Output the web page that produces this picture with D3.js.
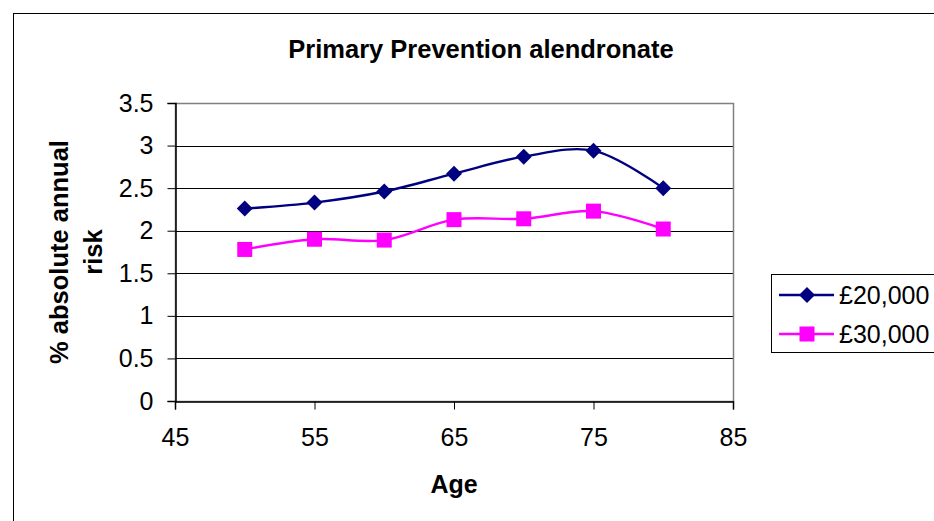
<!DOCTYPE html>
<html><head><meta charset="utf-8">
<script src="https://cdn.jsdelivr.net/npm/d3@7"></script>
<style>body{margin:0;background:#fff}svg{display:block}text{font-family:"Liberation Sans",Arial,sans-serif}</style>
</head><body>
<script>
const ages = [50, 55, 60, 65, 70, 75, 80];
const series20k = [2.26, 2.33, 2.46, 2.67, 2.87, 2.94, 2.50];
const series30k = [1.78, 1.90, 1.89, 2.13, 2.14, 2.23, 2.02];
const seriesNames = ["£20,000", "£30,000"];
const xTicks = [45, 55, 65, 75, 85];
const yTicks = [0, 0.5, 1, 1.5, 2, 2.5, 3, 3.5];

const W = 934, H = 521;
const svg = d3.select("body").append("svg").attr("width", W).attr("height", H);
svg.append("rect").attr("x", 13.5).attr("y", 13.5).attr("width", 940).attr("height", 530)
  .attr("fill", "#fff").attr("stroke", "#000").attr("stroke-width", 1);

const L = 175, R = 733, T = 103, B = 401;
const x = d3.scaleLinear().domain([45, 85]).range([L, R]);
const y = d3.scaleLinear().domain([0, 3.5]).range([B, T]);
const FS = 25;

// gridlines
svg.append("g").selectAll("line").data(yTicks.filter(d => d > 0 && d < 3.5)).join("line")
  .attr("x1", L).attr("x2", R).attr("y1", d => Math.round(y(d)) + 0.5).attr("y2", d => Math.round(y(d)) + 0.5)
  .attr("stroke", "#000").attr("stroke-width", 1);
// plot border
svg.append("rect").attr("x", L + 0.5).attr("y", T + 0.5).attr("width", R - L).attr("height", B - T)
  .attr("fill", "none").attr("stroke", "#808080").attr("stroke-width", 1.5);

const yAxis = svg.append("g").attr("transform", `translate(${L + 0.5},0)`)
  .call(d3.axisLeft(y).tickValues(yTicks).tickSize(8).tickPadding(14).tickFormat(d3.format("")));
const xAxis = svg.append("g").attr("transform", `translate(0,${B + 0.5})`)
  .call(d3.axisBottom(x).tickValues(xTicks).tickSize(8).tickPadding(19).tickFormat(d3.format("")));
[yAxis, xAxis].forEach(g => {
  g.select(".domain").attr("stroke", "#000").attr("stroke-width", 1.5);
  g.selectAll(".tick line").attr("stroke", "#000");
  g.selectAll(".tick text").attr("font-size", FS).attr("fill", "#000").attr("font-family", '"Liberation Sans",Arial,sans-serif');
});

svg.append("text").attr("x", 481).attr("y", 58).attr("text-anchor", "middle")
  .attr("font-size", 25.5).attr("font-weight", "bold").text("Primary Prevention alendronate");
svg.append("text").attr("x", 454).attr("y", 493).attr("text-anchor", "middle")
  .attr("font-size", FS).attr("font-weight", "bold").text("Age");
const yt = svg.append("text").attr("transform", "translate(68,252) rotate(-90)").attr("text-anchor", "middle")
  .attr("font-size", 25.5).attr("font-weight", "bold");
yt.append("tspan").attr("x", 0).attr("dy", 0).text("% absolute annual");
yt.append("tspan").attr("x", 0).attr("dy", 34).text("risk");

const line = d3.line().x((d, i) => x(ages[i])).y(d => y(d)).curve(d3.curveCatmullRom.alpha(0.5));
const data = [
  {name: seriesNames[0], vals: series20k, color: "#000080", shape: "diamond"},
  {name: seriesNames[1], vals: series30k, color: "#FF00FF", shape: "square"}
];
const diamond = s => `M0,${-s}L${s},0L0,${s}L${-s},0Z`;
function marker(g, shape, color) {
  if (shape === "diamond") g.append("path").attr("d", diamond(8)).attr("fill", color);
  else g.append("rect").attr("x", -7.5).attr("y", -7.5).attr("width", 15).attr("height", 15).attr("fill", color);
}
data.forEach(s => {
  svg.append("path").datum(s.vals).attr("d", line).attr("fill", "none").attr("stroke", s.color).attr("stroke-width", 2.4);
  s.vals.forEach((v, i) => {
    const g = svg.append("g").attr("transform", `translate(${x(ages[i])},${y(v)})`);
    marker(g, s.shape, s.color);
  });
});

// legend
const lg = svg.append("g");
lg.append("rect").attr("x", 771.5).attr("y", 274.5).attr("width", 200).attr("height", 78)
  .attr("fill", "#fff").attr("stroke", "#000").attr("stroke-width", 1);
data.forEach((s, i) => {
  const cy = 295 + i * 39;
  lg.append("line").attr("x1", 779).attr("x2", 834).attr("y1", cy).attr("y2", cy).attr("stroke", s.color).attr("stroke-width", 2.4);
  const g = lg.append("g").attr("transform", `translate(807,${cy})`);
  marker(g, s.shape, s.color);
  lg.append("text").attr("x", 839).attr("y", cy + 8.5).attr("font-size", FS).text(s.name);
});
</script>
</body></html>
